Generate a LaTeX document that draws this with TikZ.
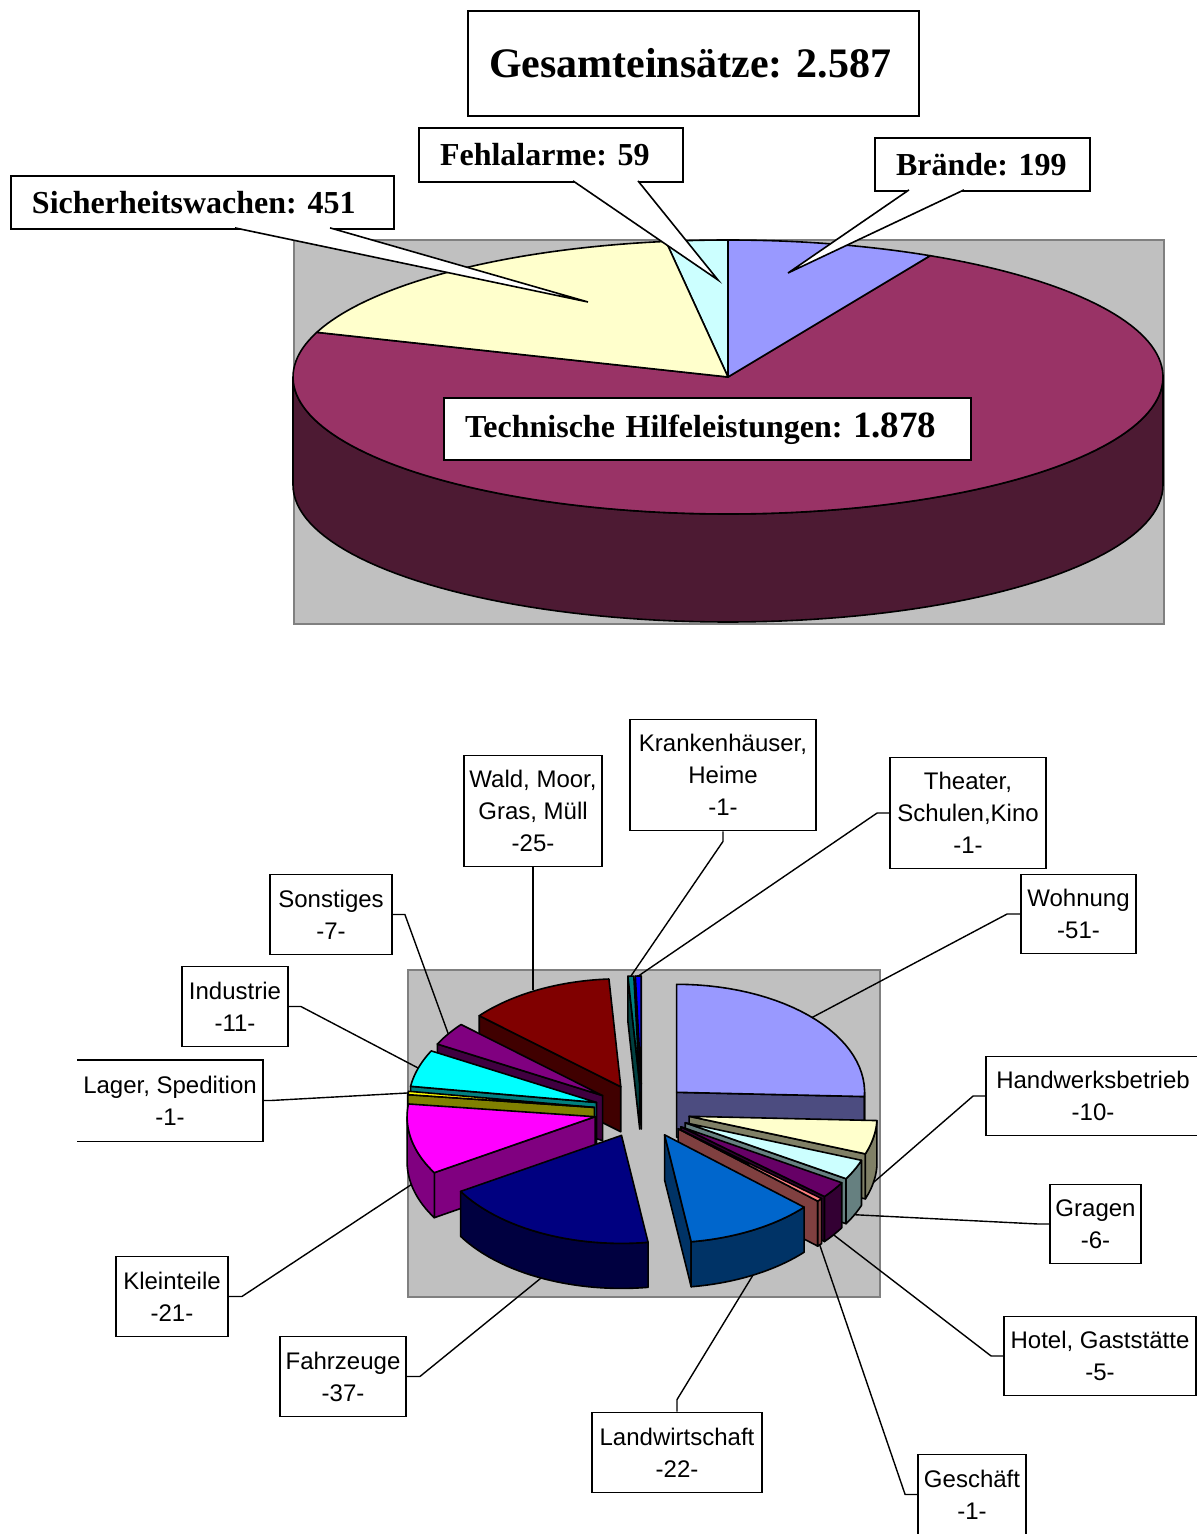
\documentclass[tikz,border=0pt]{standalone}
\usepackage{fontspec}
\setmainfont{Liberation Serif}
\newfontfamily\arialfont{Liberation Sans}
\usepackage{tikz}
\frenchspacing

\definecolor{chartgray}{HTML}{C0C0C0}
\definecolor{thl}{HTML}{993366}
\definecolor{thlside}{HTML}{4D1A33}
\definecolor{braende}{HTML}{9999FF}
\definecolor{sicher}{HTML}{FFFFCC}
\definecolor{fehl}{HTML}{CCFFFF}
% Brandobjekte: Deckel / Seite
\definecolor{wo}{HTML}{9999FF}\definecolor{wo-s}{HTML}{4C4C80}
\definecolor{hw}{HTML}{FFFFCC}\definecolor{hw-s}{HTML}{808066}
\definecolor{gr}{HTML}{CCFFFF}\definecolor{gr-s}{HTML}{668080}
\definecolor{ho}{HTML}{660066}\definecolor{ho-s}{HTML}{330033}
\definecolor{ge}{HTML}{FF8080}\definecolor{ge-s}{HTML}{804040}
\definecolor{lw}{HTML}{0066CC}\definecolor{lw-s}{HTML}{003366}
\definecolor{fz}{HTML}{000080}\definecolor{fz-s}{HTML}{000040}
\definecolor{kt}{HTML}{FF00FF}\definecolor{kt-s}{HTML}{800080}
\definecolor{lg}{HTML}{FFFF00}\definecolor{lg-s}{HTML}{808000}
\definecolor{ind}{HTML}{00FFFF}\definecolor{ind-s}{HTML}{008080}
\definecolor{so}{HTML}{800080}\definecolor{so-s}{HTML}{400040}
\definecolor{wa}{HTML}{800000}\definecolor{wa-s}{HTML}{400000}
\definecolor{kh}{HTML}{008080}\definecolor{kh-s}{HTML}{004040}
\definecolor{th}{HTML}{0000FF}\definecolor{th-s}{HTML}{000080}

% #1 name, #2 start angle, #3 end angle, #4 top colour, #5 side colour
\newcommand{\pieslice}[5]{%
  \pgfmathsetmacro\smid{(#2+#3)/2}
  \pgfmathsetmacro\sax{642+48*cos(\smid)}
  \pgfmathsetmacro\say{1111-27*sin(\smid)}
  \pgfmathtruncatemacro\showa{cos(#2)>0.001}
  \pgfmathtruncatemacro\showb{cos(#3)<-0.001}
  \pgfmathsetmacro\fa{max(#2,-180)}
  \pgfmathsetmacro\fb{min(#3,0)}
  \pgfmathtruncatemacro\showf{\fb>\fa}
  \ifnum\showa=1
    \filldraw[slice, fill=#5] (\sax,\say) -- ({\sax+188*cos(#2)},{\say-108*sin(#2)}) -- ++(0,45) -- (\sax,{\say+45}) -- cycle;
  \fi
  \ifnum\showb=1
    \filldraw[slice, fill=#5] (\sax,\say) -- ({\sax+188*cos(#3)},{\say-108*sin(#3)}) -- ++(0,45) -- (\sax,{\say+45}) -- cycle;
  \fi
  \ifnum\showf=1
    \filldraw[slice, fill=#5] plot[domain=\fa:\fb, samples=30] ({\sax+188*cos(\x)},{\say-108*sin(\x)})
      -- plot[domain=\fb:\fa, samples=30] ({\sax+188*cos(\x)},{\say+45-108*sin(\x)}) -- cycle;
  \fi
  \filldraw[slice, fill=#4] (\sax,\say) -- plot[domain=#2:#3, samples=30] ({\sax+188*cos(\x)},{\say-108*sin(\x)}) -- cycle;
  \pgfmathsetmacro\sdep{sin(\smid)>0 ? 0 : 45}
  \coordinate (#1) at ({\sax+188*cos(\smid)},{\say+\sdep-108*sin(\smid)});
}

\begin{document}
\begin{tikzpicture}[x=0.5pt, y=-0.5pt,
  area/.style={fill=chartgray, draw=gray, line width=0.7pt},
  slice/.style={draw=black, line width=0.8pt, line join=round},
  callout/.style={draw, fill=white, line width=0.9pt, inner xsep=10.5pt, inner ysep=0pt, align=left,
    font=\bfseries\fontsize{16}{19}\selectfont},
  lbl/.style={draw, fill=white, line width=0.9pt, inner sep=0pt, align=center,
    font=\arialfont\fontsize{12}{16}\selectfont},
  leader/.style={line width=0.7pt}]
\useasboundingbox (0,0) rectangle (1197,1534);

% Einsaetze gesamt
\draw[area] (294,240) rectangle (1164,624);
\filldraw[slice, fill=thlside] plot[domain=-180:0, samples=90] ({728+435*cos(\x)},{377-137*sin(\x)})
  -- plot[domain=0:-180, samples=90] ({728+435*cos(\x)},{485-137*sin(\x)}) -- cycle;
\filldraw[slice, fill=thl] (728,377) -- plot[domain=-199.03:62.31, samples=150] ({728+435*cos(\x)},{377-137*sin(\x)}) -- cycle;
\filldraw[slice, fill=braende] (728,377) -- plot[domain=62.31:90, samples=30] ({728+435*cos(\x)},{377-137*sin(\x)}) -- cycle;
\filldraw[slice, fill=fehl] (728,377) -- plot[domain=90:98.21, samples=15] ({728+435*cos(\x)},{377-137*sin(\x)}) -- cycle;
\filldraw[slice, fill=sicher] (728,377) -- plot[domain=98.21:160.97, samples=50] ({728+435*cos(\x)},{377-137*sin(\x)}) -- cycle;

\node[callout, font=\bfseries\fontsize{21}{25}\selectfont, text width=204.5pt, minimum height=52.5pt] (gesamt) at (693.5,63.5) {\mbox{Gesamteinsätze: 2.587}};
\node[callout, text width=111pt, minimum height=27pt] (fehlalarme) at (551,155) {\mbox{Fehlalarme: 59}};
\node[callout, text width=86.5pt, minimum height=26.5pt] (braende) at (982.5,164.5) {\mbox{Brände: 199}};
\node[callout, text width=170.5pt, minimum height=26.5pt] (sicherheit) at (202.5,202.5) {\mbox{Sicherheitswachen: 451}};
\node[callout, text width=242.5pt, minimum height=31pt] (technisch) at (707.5,429) {\mbox{Technische Hilfeleistungen: {\fontsize{18.5}{22}\selectfont 1.878}}};

\coordinate (fehlalarme-tip) at (718,280);
\coordinate (braende-tip) at (788,273);
\coordinate (sicherheit-tip) at (588,302);
\filldraw[fill=white, line width=0.8pt] ([xshift=11pt,yshift=1pt]fehlalarme.south) -- (fehlalarme-tip) -- ([xshift=43.5pt,yshift=1pt]fehlalarme.south);
\filldraw[fill=white, line width=0.8pt] ([xshift=-36.75pt,yshift=1pt]braende.south) -- (braende-tip) -- ([xshift=-9.25pt,yshift=1pt]braende.south);
\filldraw[fill=white, line width=0.8pt] ([xshift=16.25pt,yshift=1pt]sicherheit.south) -- (sicherheit-tip) -- ([xshift=63.75pt,yshift=1pt]sicherheit.south);

% Brandobjekte
\draw[area] (408,970) rectangle (880,1297);
\pieslice{th}{-270}{-268.191}{th}{th-s}
\pieslice{kh}{-268.191}{-266.382}{kh}{kh-s}
\pieslice{wa}{-266.382}{-221.156}{wa}{wa-s}
\pieslice{wo}{-2.261}{90}{wo}{wo-s}
\pieslice{so}{-221.156}{-208.492}{so}{so-s}
\pieslice{ind}{-208.492}{-188.593}{ind}{ind-s}
\pieslice{lg}{-188.593}{-186.784}{lg}{lg-s}
\pieslice{hw}{-20.352}{-2.261}{hw}{hw-s}
\pieslice{kt}{-186.784}{-148.794}{kt}{kt-s}
\pieslice{gr}{-31.206}{-20.352}{gr}{gr-s}
\pieslice{ho}{-40.251}{-31.206}{ho}{ho-s}
\pieslice{ge}{-42.060}{-40.251}{ge}{ge-s}
\pieslice{lw}{-81.859}{-42.060}{lw}{lw-s}
\pieslice{fz}{-148.794}{-81.859}{fz}{fz-s}

\node[lbl, minimum width=69pt, minimum height=55.5pt] (l-wa) at (533,811) {Wald, Moor,\\Gras, Müll\\-25-};
\node[lbl, minimum width=93pt, minimum height=55.5pt] (l-kh) at (723,775) {Krankenhäuser,\\Heime\\-1-};
\node[lbl, minimum width=78pt, minimum height=55.5pt] (l-th) at (968,813) {Theater,\\Schulen,Kino\\-1-};
\node[lbl, minimum width=57.5pt, minimum height=39.5pt] (l-wo) at (1078.5,914) {Wohnung\\-51-};
\node[lbl, minimum width=107pt, minimum height=39.5pt] (l-hw) at (1093,1096) {Handwerksbetrieb\\-10-};
\node[lbl, minimum width=45.5pt, minimum height=39.5pt] (l-gr) at (1095.5,1224) {Gragen\\-6-};
\node[lbl, minimum width=96pt, minimum height=39.5pt] (l-ho) at (1100,1356) {Hotel, Gaststätte\\-5-};
\node[lbl, minimum width=54pt, minimum height=40pt] (l-ge) at (972,1494.5) {Geschäft\\-1-};
\node[lbl, minimum width=85pt, minimum height=40pt] (l-lw) at (677,1452.5) {Landwirtschaft\\-22-};
\node[lbl, minimum width=63pt, minimum height=40pt] (l-fz) at (343,1376.5) {Fahrzeuge\\-37-};
\node[lbl, minimum width=56pt, minimum height=40pt] (l-kt) at (172,1296.5) {Kleinteile\\-21-};
\node[lbl, draw=none, minimum width=92pt, minimum height=40pt] (l-lg) at (170,1100.5) {Lager, Spedition\\-1-};
\draw[line width=0.9pt] (l-lg.north west) -- (l-lg.north east) -- (l-lg.south east) -- (l-lg.south west);
\node[lbl, minimum width=53pt, minimum height=40pt] (l-ind) at (235,1006.5) {Industrie\\-11-};
\node[lbl, minimum width=61pt, minimum height=40pt] (l-so) at (331,914.5) {Sonstiges\\-7-};

\draw[leader] (l-wa.south) -- (l-wa.south |- wa);
\draw[leader] (l-kh.south) -- ++(0,10) -- (kh);
\draw[leader] (l-th.west) -- ++(-12,0) -- (th);
\draw[leader] (l-wo.west) -- ++(-13,0) -- (wo);
\draw[leader] (l-hw.west) -- ++(-12,0) -- (hw);
\draw[leader] (l-gr.west) -- ++(-11,0) -- (gr);
\draw[leader] (l-ho.west) -- ++(-12,0) -- (ho);
\draw[leader] (l-ge.west) -- ++(-12,0) -- (ge);
\draw[leader] (l-lw.north) -- ++(0,-12) -- (lw);
\draw[leader] (l-fz.east) -- ++(13,0) -- (fz);
\draw[leader] (l-kt.east) -- ++(13,0) -- (kt);
\draw[leader] (l-lg.east) -- ++(8,0) -- (lg);
\draw[leader] (l-ind.east) -- ++(12,0) -- (ind);
\draw[leader] (l-so.east) -- ++(12,0) -- (so);
\end{tikzpicture}
\end{document}
